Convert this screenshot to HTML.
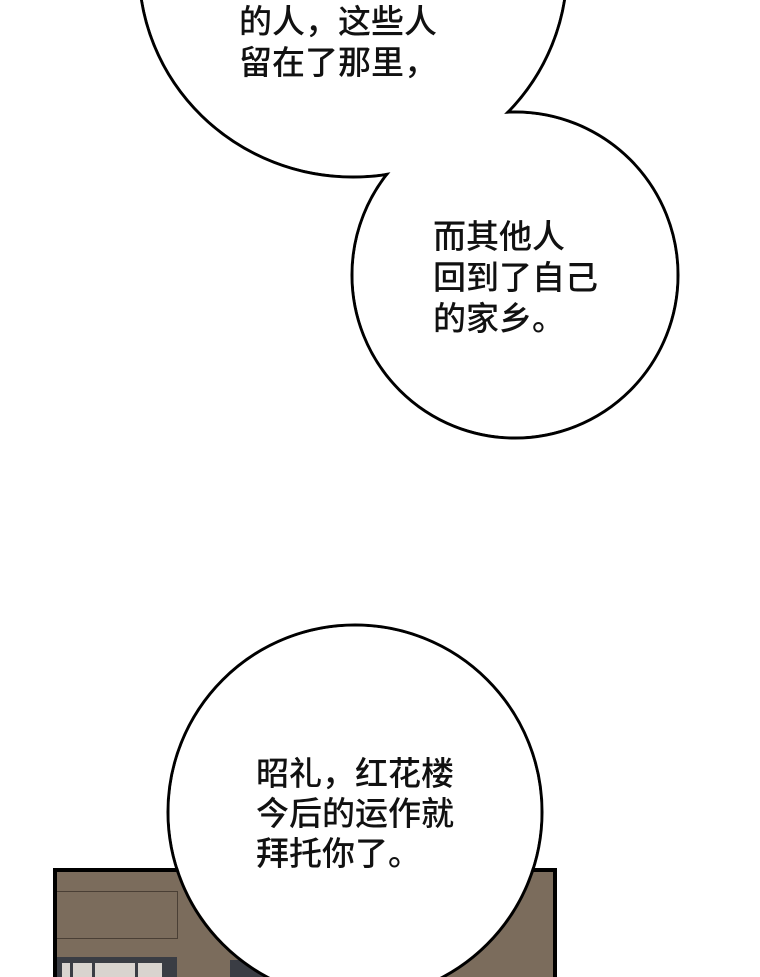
<!DOCTYPE html>
<html><head><meta charset="utf-8"><style>
html,body{margin:0;padding:0;background:#fff;}
body{width:760px;height:977px;overflow:hidden;position:relative;}
svg{position:absolute;left:0;top:0;}
text{font-family:"Liberation Sans","Noto Sans CJK SC",sans-serif;font-size:33px;font-weight:500;fill:#111;}
</style></head><body>
<svg width="760" height="977" viewBox="0 0 760 977">
<rect x="53" y="868" width="504" height="120" fill="#000"/>
<rect x="57" y="872" width="496" height="110" fill="#7b6c5c"/>
<rect x="57" y="891" width="120" height="1" fill="#4a3f35"/>
<rect x="57" y="938" width="120" height="1" fill="#4a3f35"/>
<rect x="177" y="891" width="1" height="48" fill="#4a3f35"/>
<rect x="57" y="957" width="120" height="20" fill="#3a3d44"/>
<rect x="62" y="963" width="100" height="14" fill="#d9d4cf"/>
<rect x="70" y="963" width="3" height="14" fill="#3a3d44"/>
<rect x="92" y="963" width="3" height="14" fill="#3a3d44"/>
<rect x="135" y="963" width="3" height="14" fill="#3a3d44"/>
<rect x="230" y="960" width="40" height="17" fill="#3a3d44"/>
<g fill="none" stroke="#000" stroke-width="3">
<ellipse cx="353" cy="-32" rx="214" ry="209"/>
<circle cx="515" cy="275" r="163"/>
<circle cx="355" cy="812" r="187"/>
</g>
<g fill="#fff">
<ellipse cx="353" cy="-32" rx="212.5" ry="207.5"/>
<circle cx="515" cy="275" r="161.5"/>
<circle cx="355" cy="812" r="185.5"/>
</g>
<text x="239" y="33">的人，这些人</text>
<text x="239" y="74">留在了那里，</text>
<text x="433" y="248">而其他人</text>
<text x="433" y="289">回到了自己</text>
<text x="433" y="330">的家乡。</text>
<text x="256" y="785">昭礼，红花楼</text>
<text x="256" y="825">今后的运作就</text>
<text x="256" y="865">拜托你了。</text>
</svg>
</body></html>
